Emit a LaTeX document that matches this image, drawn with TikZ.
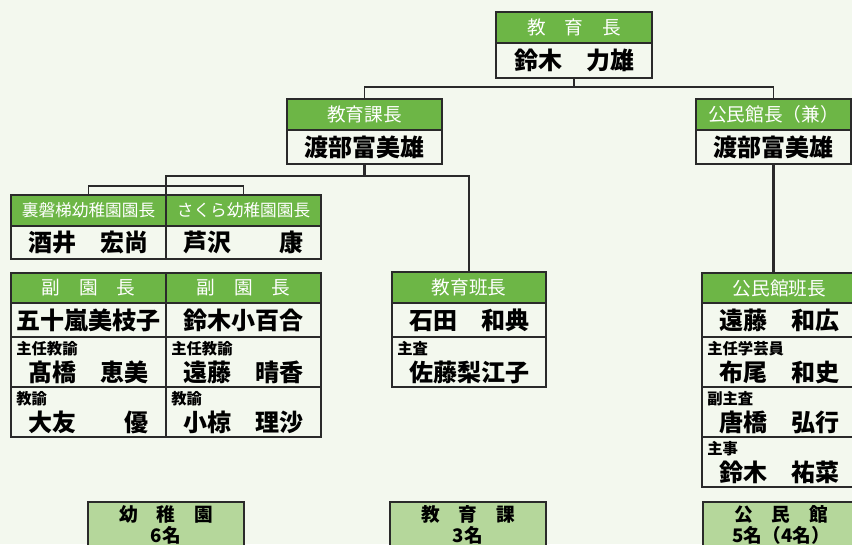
\documentclass[tikz,border=0pt]{standalone}
\usepackage{fontspec}
\setmainfont{Noto Sans CJK JP}
\usetikzlibrary{positioning}

\definecolor{bgpaper}{HTML}{F3F8EE}
\definecolor{hdgreen}{HTML}{6DB646}
\definecolor{sumgreen}{HTML}{B5D79B}
\definecolor{rulec}{HTML}{2A2A2A}

\tikzset{
  box/.style={draw=rulec, line width=1.1pt, rectangle, inner sep=0pt, outer sep=0pt,
    anchor=north west, minimum width=155*0.75pt},
  head/.style={box, fill=hdgreen, text=white, font=\fontsize{14}{14}\selectfont,
    minimum height=31*0.75pt},
  hdsmall/.style={head, font=\fontsize{12.5}{12.5}\selectfont},
  cell/.style={box, fill=bgpaper, font=\fontsize{18}{18}\selectfont\bfseries,
    text height=15pt, text depth=1pt, minimum height=34*0.75pt},
  subcell/.style={cell, text height=30pt, minimum height=50*0.75pt},
  tag/.style={font=\fontsize{11.5}{11.5}\selectfont\bfseries, inner sep=0pt,
    anchor=north west, xshift=5*0.75pt, yshift=-4*0.75pt},
  total/.style={box, fill=sumgreen, font=\fontsize{14}{15.5}\selectfont\bfseries,
    align=center, minimum width=156*0.75pt, minimum height=46*0.75pt},
  link/.style={draw=rulec, line width=1.1pt},
  stub/.style={draw=rulec, line width=1.9pt},
}

\begin{document}
\begin{tikzpicture}[x=0.75pt, y=-0.75pt]
  \useasboundingbox (0,0) rectangle (852,544);
  \clip (0,0) rectangle (852,544);
  \fill[bgpaper] (0,0) rectangle (852,544);

  % top
  \node[head, minimum width=156*0.75pt] (chief) at (496,12) {教　育　長};
  \node[cell, minimum width=156*0.75pt, minimum height=35*0.75pt, below=0pt of chief] (chiefname) {鈴木　力雄};

  \node[head] (kacho) at (287,99) {教育課長};
  \node[cell, below=0pt of kacho] (kachoname) {渡部富美雄};
  \node[head] (kancho) at (696,99) {公民館長（兼）};
  \node[cell, below=0pt of kancho] (kanchoname) {渡部富美雄};

  % kindergartens
  \node[hdsmall] (enA) at (11,195) {裏磐梯幼稚園園長};
  \node[cell, minimum height=33*0.75pt, below=0pt of enA] (enAname) {酒井　宏尚};
  \node[hdsmall, right=0pt of enA] (enB) {さくら幼稚園園長};
  \node[cell, minimum height=33*0.75pt, below=0pt of enB] (enBname) {芦沢　　康};

  \node[head, minimum height=30*0.75pt] (fukuA) at (11,273) {副　園　長};
  \node[cell, below=0pt of fukuA] (fukuAname) {五十嵐美枝子};
  \node[subcell, below=0pt of fukuAname, label={[tag]north west:主任教諭}] (fukuAsub) {髙橋　恵美};
  \node[subcell, below=0pt of fukuAsub, label={[tag]north west:教諭}] (fukuAtea) {大友　　優};

  \node[head, minimum height=30*0.75pt, right=0pt of fukuA] (fukuB) {副　園　長};
  \node[cell, below=0pt of fukuB] (fukuBname) {鈴木小百合};
  \node[subcell, below=0pt of fukuBname, label={[tag]north west:主任教諭}] (fukuBsub) {遠藤　晴香};
  \node[subcell, below=0pt of fukuBsub, label={[tag]north west:教諭}] (fukuBtea) {小椋　理沙};

  % education section
  \node[head, minimum width=154*0.75pt] (han) at (392,272) {教育班長};
  \node[cell, minimum width=154*0.75pt, below=0pt of han] (hanname) {石田　和典};
  \node[subcell, minimum width=154*0.75pt, below=0pt of hanname, label={[tag]north west:主査}] (hansub) {佐藤梨江子};

  % community hall
  \node[head, minimum height=30*0.75pt] (khan) at (702,273) {公民館班長};
  \node[cell, below=0pt of khan] (khanname) {遠藤　和広};
  \node[subcell, below=0pt of khanname, label={[tag]north west:主任学芸員}] (khanA) {布尾　和史};
  \node[subcell, below=0pt of khanA, label={[tag]north west:副主査}] (khanB) {唐橋　弘行};
  \node[subcell, below=0pt of khanB, label={[tag]north west:主事}] (khanC) {鈴木　祐菜};

  % totals
  \node[total] (sumEn) at (88,502) {幼　稚　園\\6名};
  \node[total] (sumKyo) at (390,502) {教　育　課\\3名};
  \node[total] (sumKom) at (703,502) {公　民　館\\5名（4名）};

  % lines
  \draw[stub] (chiefname.south) -- ++(0,9) coordinate (tj);
  \draw[link] (kacho.north) |- (tj) -| (kancho.north);
  \draw[stub] (kachoname.south) -- ++(0,12) coordinate (kj);
  \draw[link] (enA.north east) |- (kj) -| (han.north);
  \draw[link] (enA.north) -- ++(0,-9) -| (enB.north);
  \draw[stub] (kanchoname.south) -- (kanchoname.south |- khan.north);
\end{tikzpicture}
\end{document}
